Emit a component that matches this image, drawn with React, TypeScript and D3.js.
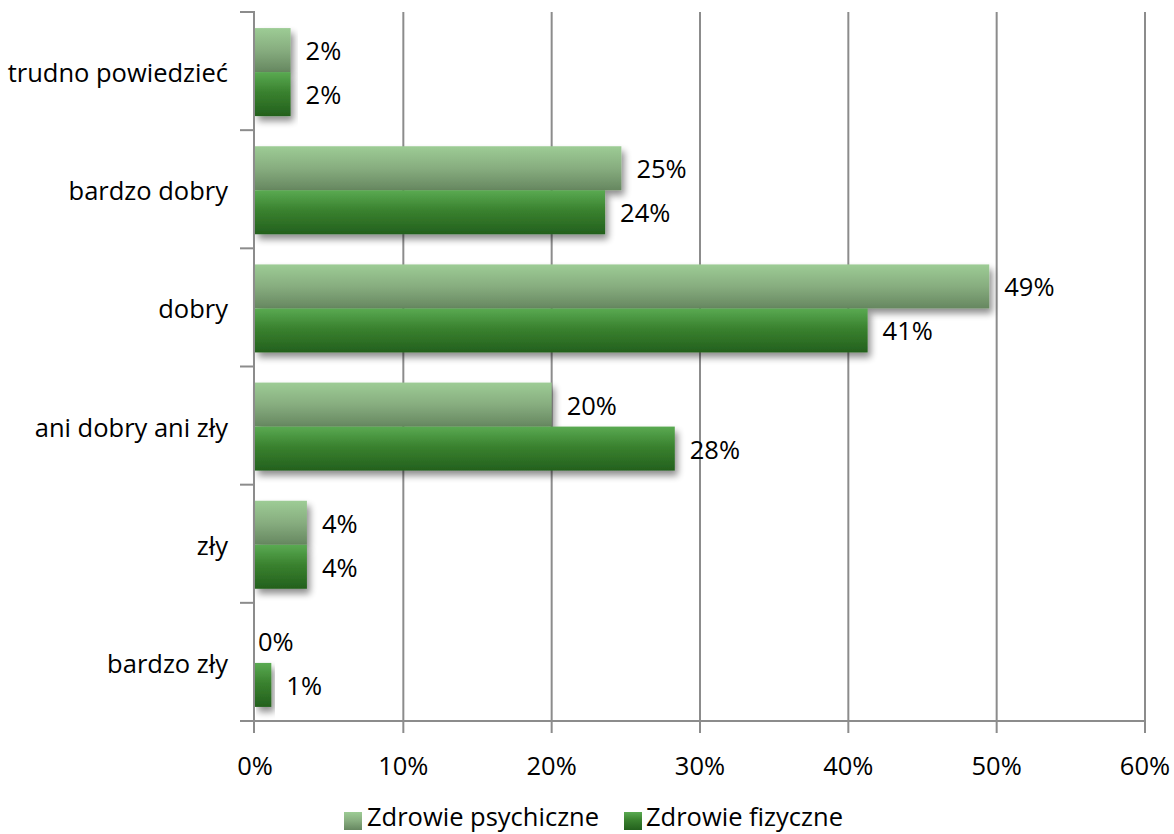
import React from "react";
import * as d3 from "d3";

const categories = ["trudno powiedzieć", "bardzo dobry", "dobry", "ani dobry ani zły", "zły", "bardzo zły"];
const psychiczne = [2.4, 24.7, 49.5, 20.0, 3.5, 0];
const fizyczne = [2.4, 23.6, 41.3, 28.3, 3.5, 1.1];
const psychLabels = ["2%", "25%", "49%", "20%", "4%", "0%"];
const fizLabels = ["2%", "24%", "41%", "28%", "4%", "1%"];
const xTicks = [0, 10, 20, 30, 40, 50, 60];
const seriesNames = ["Zdrowie psychiczne", "Zdrowie fizyczne"];

export default function App() {
  const W = 1174, H = 834;
  const left = 255, right = 1145, top = 12, bottom = 721;
  const x = d3.scaleLinear().domain([0, 60]).range([left, right]);
  const y = d3.scaleBand().domain(categories).range([top, bottom]).paddingInner(0).paddingOuter(0);
  const bw = y.bandwidth();
  const barH = 44;
  const offTop = (bw - 2 * barH) / 2 + 1;
  const font = "'Open Sans', 'Noto Sans', sans-serif";
  const fs = 25.5;
  return (
    <svg width={W} height={H} style={{ position: "absolute", left: 0, top: 0, background: "#fff" }}>
      <defs>
        <linearGradient id="gPsych" x1="0" y1="0" x2="0" y2="1">
          <stop offset="0" stopColor="#9dcc95" />
          <stop offset="0.5" stopColor="#87ad7f" />
          <stop offset="1" stopColor="#668760" />
        </linearGradient>
        <linearGradient id="gFiz" x1="0" y1="0" x2="0" y2="1">
          <stop offset="0" stopColor="#5aaa52" />
          <stop offset="0.45" stopColor="#3a822f" />
          <stop offset="1" stopColor="#23601d" />
        </linearGradient>
        <filter id="shadow" x="-10%" y="-20%" width="130%" height="160%">
          <feGaussianBlur in="SourceAlpha" stdDeviation="3.5" />
          <feOffset dx="3" dy="5" result="b" />
          <feComponentTransfer><feFuncA type="linear" slope="0.45" /></feComponentTransfer>
          <feMerge><feMergeNode /><feMergeNode in="SourceGraphic" /></feMerge>
        </filter>
      </defs>
      {xTicks.slice(1).map((t) => (
        <line key={"g" + t} x1={x(t)} x2={x(t)} y1={top} y2={bottom + 12} stroke="#8c8c8c" strokeWidth={2} />
      ))}
      {categories.map((c, i) => {
        const y0 = (y(c) as number) + offTop;
        return (
          <g key={c}>
            {psychiczne[i] > 0 && (
              <rect x={x(0)} y={y0} width={x(psychiczne[i]) - x(0)} height={barH} fill="url(#gPsych)" filter="url(#shadow)" />
            )}
            <rect x={x(0)} y={y0 + barH} width={x(fizyczne[i]) - x(0)} height={barH} fill="url(#gFiz)" filter="url(#shadow)" />
          </g>
        );
      })}
      {categories.map((c, i) => {
        const y0 = (y(c) as number) + offTop;
        return (
          <g key={"l" + c} fontFamily={font} fontSize={fs} fill="#000">
            <text x={x(psychiczne[i]) + (psychiczne[i] > 0 ? 15 : 3)} y={y0 + barH / 2} dominantBaseline="central">{psychLabels[i]}</text>
            <text x={x(fizyczne[i]) + 15} y={y0 + barH * 1.5} dominantBaseline="central">{fizLabels[i]}</text>
            <text x={228} y={(y(c) as number) + bw / 2 + 1} textAnchor="end" dominantBaseline="central">{c}</text>
          </g>
        );
      })}
      <line x1={left - 1} x2={left - 1} y1={top} y2={bottom + 12} stroke="#8c8c8c" strokeWidth={2} />
      <line x1={240} x2={right} y1={bottom} y2={bottom} stroke="#8c8c8c" strokeWidth={2} />
      {categories.map((c) => (
        <line key={"t" + c} x1={240} x2={left} y1={y(c) as number} y2={y(c) as number} stroke="#8c8c8c" strokeWidth={2} />
      ))}
      {xTicks.map((t) => (
        <text key={"xt" + t} x={x(t)} y={765} textAnchor="middle" dominantBaseline="central" fontFamily={font} fontSize={fs}>{t}%</text>
      ))}
      <g fontFamily={font} fontSize={fs}>
        <rect x={344} y={812} width={18} height={18} fill="url(#gPsych)" />
        <text x={367} y={826}>{seriesNames[0]}</text>
        <rect x={624} y={812} width={18} height={18} fill="url(#gFiz)" />
        <text x={646} y={826}>{seriesNames[1]}</text>
      </g>
    </svg>
  );
}
